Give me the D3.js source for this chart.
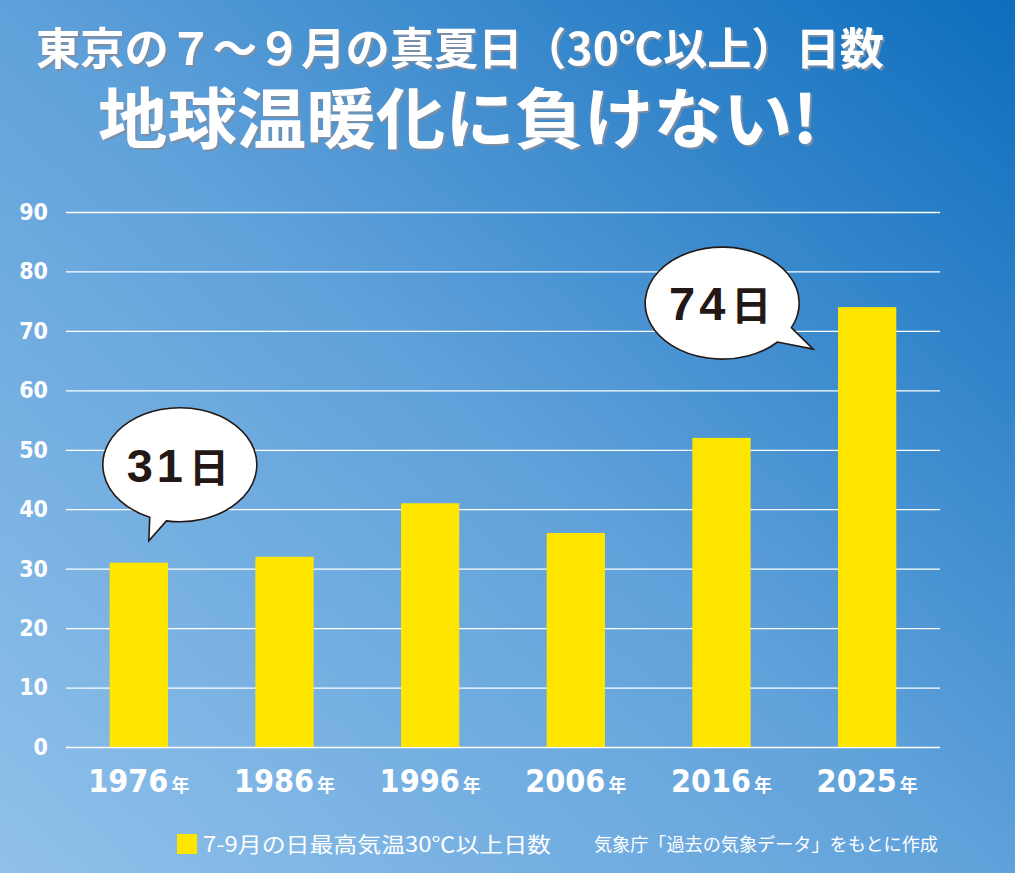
<!DOCTYPE html>
<html>
<head>
<meta charset="utf-8">
<script src="https://cdn.jsdelivr.net/npm/d3@7"></script>
<style>
  body { margin: 0; }
  svg { display: block; }
</style>
</head>
<body>
<script>
// data
var years = ["1976", "1986", "1996", "2006", "2016", "2025"];
var days = [31, 32, 41, 36, 52, 74];
var yTicks = [0, 10, 20, 30, 40, 50, 60, 70, 80, 90];
var callouts = ["1976", "2025"];

var title1 = "東京の７～９月の真夏日（30℃以上）日数";
var title2 = "地球温暖化に負けない!";
var legendText = "7-9月の日最高気温30℃以上日数";
var sourceText = "気象庁「過去の気象データ」をもとに作成";

var W = 1015, H = 873;
var jp = "'Noto Sans CJK JP', sans-serif";
var narrow = "'Liberation Sans Narrow', 'DejaVu Sans Condensed', sans-serif";

var svg = d3.select("body")
  .append("svg")
    .attr("width", W)
    .attr("height", H);

// background gradient, light at bottom left, dark at top right
var defs = svg.append("defs");
var grad = defs.append("linearGradient")
    .attr("id", "bg")
    .attr("x1", "0").attr("y1", "1")
    .attr("x2", "1").attr("y2", "0");
grad.append("stop").attr("offset", "0").attr("stop-color", "#90c1ea");
grad.append("stop").attr("offset", "0.5").attr("stop-color", "#5fa1da");
grad.append("stop").attr("offset", "1").attr("stop-color", "#0d6dbd");

// grey shadow behind the titles
defs.append("filter")
    .attr("id", "shadow")
  .append("feDropShadow")
    .attr("dx", 2)
    .attr("dy", 2)
    .attr("stdDeviation", 0.6)
    .attr("flood-color", "#7f8fa3")
    .attr("flood-opacity", 0.9);

svg.append("rect")
    .attr("width", W)
    .attr("height", H)
    .attr("fill", "url(#bg)");

function titleText(x, y, txt, size, len) {
  svg.append("text")
    .attr("x", x)
    .attr("y", y)
    .attr("fill", "#ffffff")
    .attr("font-family", jp)
    .attr("font-weight", "bold")
    .attr("font-size", size)
    .attr("textLength", len)
    .attr("lengthAdjust", "spacingAndGlyphs")
    .attr("filter", "url(#shadow)")
    .text(txt);
}
titleText(36, 65, title1, 44, 848);
titleText(98, 143, title2, 66, 720);

// scales
var x = d3.scaleBand()
    .domain(years)
    .range([66, 940])
    .paddingInner(0.6)
    .paddingOuter(0.3);

var y = d3.scaleLinear()
    .domain([0, 90])
    .range([747, 212]);

// grid lines + y labels
var yAxis = d3.axisLeft(y)
    .tickValues(yTicks)
    .tickSize(-874)
    .tickPadding(18);

var gy = svg.append("g")
    .attr("transform", "translate(66,0)")
    .call(yAxis);
gy.select(".domain").remove();
gy.selectAll(".tick line")
    .attr("stroke", "#ffffff")
    .attr("stroke-width", 1.3);
gy.selectAll(".tick text")
    .attr("fill", "#ffffff")
    .attr("font-family", narrow)
    .attr("font-weight", "bold")
    .attr("font-size", 23);

// bars
svg.selectAll(".bar")
  .data(days)
  .enter()
  .append("rect")
    .attr("class", "bar")
    .attr("x", function(d, i){ return x(years[i]); })
    .attr("y", function(d){ return y(d); })
    .attr("width", x.bandwidth())
    .attr("height", function(d){ return y(0) - y(d); })
    .attr("fill", "#ffe600");

// x labels: year + small 年
var xl = svg.selectAll(".xlab")
  .data(years)
  .enter()
  .append("text")
    .attr("class", "xlab")
    .attr("x", function(d){ return x(d) + x.bandwidth() / 2; })
    .attr("y", 792)
    .attr("text-anchor", "middle")
    .attr("fill", "#ffffff");
xl.append("tspan")
    .attr("font-family", narrow)
    .attr("font-weight", "bold")
    .attr("font-size", 32)
    .text(function(d){ return d; });
xl.append("tspan")
    .attr("font-family", jp)
    .attr("font-weight", "bold")
    .attr("font-size", 18)
    .attr("dx", 3)
    .text("年");

// speech bubbles: ellipse with a pointed tail
var bubbleStyle = {
  "1976": { dx: 41, dy: -98, rx: 77, ry: 57, tx: 10, ty: -22, a1: 100, a2: 113 },
  "2025": { dx: -145, dy: -4, rx: 77, ry: 56, tx: -54, ty: 42, a1: 26, a2: 44 }
};

callouts.forEach(function(yr){
  var i = years.indexOf(yr);
  var s = bubbleStyle[yr];
  var bx = x(yr) + x.bandwidth() / 2;
  var by = y(days[i]);
  var cx = bx + s.dx, cy = by + s.dy;
  function pt(a) {
    var r = a * Math.PI / 180;
    return [cx + s.rx * Math.cos(r), cy + s.ry * Math.sin(r)];
  }
  var p1 = pt(s.a1), p2 = pt(s.a2);
  var tip = [bx + s.tx, by + s.ty];
  var p = d3.path();
  p.moveTo(p1[0], p1[1]);
  p.lineTo(tip[0], tip[1]);
  p.lineTo(p2[0], p2[1]);
  var dstr = p.toString() +
    "A" + s.rx + "," + s.ry + " 0 1 1 " + p1[0] + "," + p1[1] + "Z";

  svg.append("path")
    .attr("d", dstr)
    .attr("fill", "#ffffff")
    .attr("stroke", "#231815")
    .attr("stroke-width", 1.6)
    .attr("stroke-linejoin", "miter");

  var t = svg.append("text")
    .attr("x", cx - 2)
    .attr("y", cy + 17)
    .attr("text-anchor", "middle")
    .attr("fill", "#231815")
    .attr("font-weight", "bold");
  t.append("tspan")
    .attr("font-family", "'Liberation Sans', Arial, sans-serif")
    .attr("font-size", 47)
    .attr("letter-spacing", 4)
    .text(days[i]);
  t.append("tspan")
    .attr("font-family", jp)
    .attr("font-size", 40)
    .attr("dx", 2)
    .text("日");
});

// legend + source
svg.append("rect")
    .attr("x", 177)
    .attr("y", 834)
    .attr("width", 20)
    .attr("height", 20)
    .attr("fill", "#ffe600");

svg.append("text")
    .attr("x", 203)
    .attr("y", 852)
    .attr("fill", "#ffffff")
    .attr("font-family", jp)
    .attr("font-size", 21)
    .attr("textLength", 348)
    .attr("lengthAdjust", "spacingAndGlyphs")
    .text(legendText);

svg.append("text")
    .attr("x", 594)
    .attr("y", 851)
    .attr("fill", "#ffffff")
    .attr("font-family", jp)
    .attr("font-size", 18)
    .attr("textLength", 344)
    .attr("lengthAdjust", "spacingAndGlyphs")
    .text(sourceText);
</script>
</body>
</html>
